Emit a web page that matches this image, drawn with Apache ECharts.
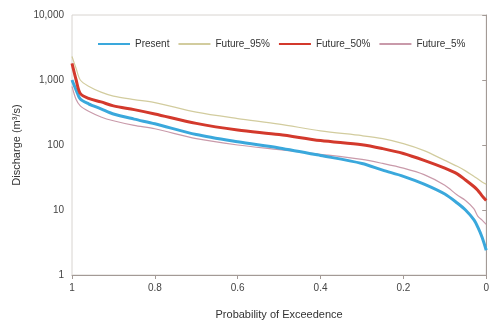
<!DOCTYPE html>
<html><head><meta charset="utf-8">
<script src="https://cdn.jsdelivr.net/npm/echarts@6/dist/echarts.min.js"></script>
<style>html,body{margin:0;padding:0;background:#fff}#c{width:492px;height:325px}</style>
</head><body><div id="c"></div>
<script>
const prob = [1, 0.99, 0.98, 0.96, 0.93, 0.9, 0.85, 0.8, 0.7, 0.6, 0.5, 0.4, 0.3, 0.25, 0.2, 0.15, 0.1, 0.07, 0.05, 0.03, 0.02, 0.01, 0];
const present   = [1000, 700, 510, 430, 360, 300, 250, 212, 145, 112, 90, 69, 52, 41, 33, 25, 17.6, 12.8, 10, 7.1, 5.4, 3.8, 2.4];
const future95  = [2300, 1500, 1000, 800, 650, 565, 500, 450, 320, 255, 210, 165, 139, 125, 105, 82, 58, 47, 40, 33, 30, 27, 25];
const future50  = [1800, 1000, 620, 520, 460, 400, 350, 300, 215, 170, 145, 117, 101, 88, 74, 58, 44, 36, 29, 23, 20, 16.5, 14];
const future5   = [800, 500, 400, 330, 270, 236, 200, 178, 125, 100, 85, 72, 60, 52, 44, 35, 24, 17, 14, 10.5, 8, 7, 6];
const seriesNames = ['Present', 'Future_95%', 'Future_50%', 'Future_5%'];
const xTicks = [1, 0.8, 0.6, 0.4, 0.2, 0];

const pair = arr => prob.map((p, i) => [p, arr[i]]);
const font = '"Liberation Sans", Arial, sans-serif';
const chart = echarts.init(document.getElementById('c'), null, {renderer: 'canvas'});
chart.setOption({
  animation: false,
  textStyle: {fontFamily: font},
  grid: {left: 72, right: 5, top: 15, bottom: 47, show: true, borderColor: '#d8d4d0', borderWidth: 1},
  legend: {
    top: 34, left: 92, itemWidth: 32, itemHeight: 10, itemGap: 8,
    itemStyle: {opacity: 0},
    textStyle: {fontSize: 10, color: '#333', fontFamily: font},
    data: seriesNames
  },
  xAxis: {
    type: 'value', inverse: true, min: 0, max: 1, interval: 0.2,
    name: 'Probability of Exceedence', nameLocation: 'middle', nameGap: 34,
    nameTextStyle: {fontSize: 11, color: '#333'},
    axisLine: {lineStyle: {color: '#a39a96'}},
    axisTick: {show: true, length: 4, lineStyle: {color: '#a39a96'}},
    axisLabel: {fontSize: 10, color: '#444', margin: 8,
      formatter: v => { const r = Math.round(v * 10) / 10; return (r === 1 || r === 0) ? String(r) : r.toFixed(1); }},
    splitLine: {show: false}
  },
  yAxis: {
    type: 'log', logBase: 10, min: 1, max: 10000,
    name: 'Discharge (m³/s)', nameLocation: 'middle', nameGap: 49,
    nameTextStyle: {fontSize: 11, color: '#333'},
    axisLine: {show: true, lineStyle: {color: '#a39a96'}},
    axisTick: {show: true, length: 4, lineStyle: {color: '#a39a96'}},
    axisLabel: {fontSize: 10, color: '#444', margin: 8,
      formatter: v => Math.round(v).toLocaleString('en-US')},
    splitLine: {show: false},
    minorTick: {show: false}
  },
  series: [
    {name: seriesNames[0], type: 'line', data: pair(present), symbol: 'none', smooth: 0.3,
     lineStyle: {color: '#3aa8dc', width: 3}, itemStyle: {color: '#3aa8dc'}, z: 4},
    {name: seriesNames[1], type: 'line', data: pair(future95), symbol: 'none', smooth: 0.3,
     lineStyle: {color: '#d2cc9e', width: 1.2}, itemStyle: {color: '#d2cc9e'}, z: 2},
    {name: seriesNames[2], type: 'line', data: pair(future50), symbol: 'none', smooth: 0.3,
     lineStyle: {color: '#d3392c', width: 3}, itemStyle: {color: '#d3392c'}, z: 5},
    {name: seriesNames[3], type: 'line', data: pair(future5), symbol: 'none', smooth: 0.3,
     lineStyle: {color: '#c99aaa', width: 1.2}, itemStyle: {color: '#c99aaa'}, z: 3}
  ]
});
</script>
</body></html>
